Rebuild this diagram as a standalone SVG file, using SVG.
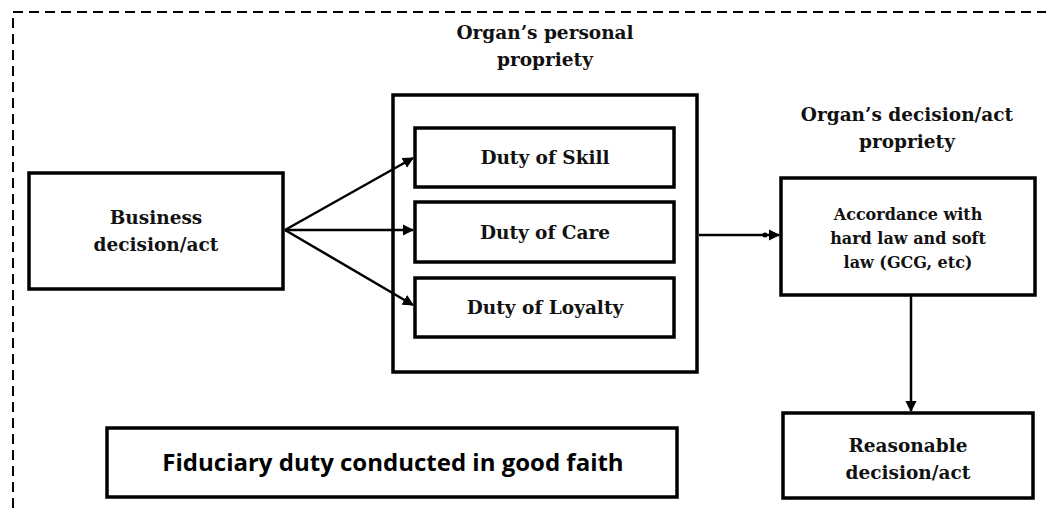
<svg xmlns="http://www.w3.org/2000/svg" width="1046" height="508" viewBox="0 0 1046 508">
<style>
.box{fill:#fff;stroke:#000;stroke-width:3.5}
.t{font-family:"DejaVu Serif","Liberation Serif",serif;font-weight:bold;font-size:18.5px;fill:#111;text-anchor:middle}
.ts{font-size:16px}
.c{stroke:#000;stroke-width:2.5;fill:none}
.f{font-family:"Open Sans","Liberation Sans",sans-serif;font-weight:bold;font-size:24px;fill:#000;text-anchor:middle}
</style>
<defs>
<marker id="ah" viewBox="0 0 10 10" refX="9" refY="5" markerWidth="4.5" markerHeight="4.5" markerUnits="strokeWidth" orient="auto">
<path d="M0,0 L10,5 L0,10 z" fill="#000"/>
</marker>
</defs>
<path d="M13,508 L13,12 L1046,12" fill="none" stroke="#000" stroke-width="2" stroke-dasharray="10,6"/>
<g id="title-personal">
<text class="t" x="545" y="39">Organ’s personal</text>
<text class="t" x="545" y="66">propriety</text>
</g>
<g id="title-decision">
<text class="t" x="907" y="121">Organ’s decision/act</text>
<text class="t" x="907" y="148">propriety</text>
</g>
<g id="business">
<rect class="box" x="29" y="173" width="254" height="116"/>
<text class="t" x="156" y="224">Business</text>
<text class="t" x="156" y="251">decision/act</text>
</g>
<g id="personal">
<rect class="box" x="393" y="95" width="304" height="277"/>
</g>
<g id="skill">
<rect class="box" x="415" y="128" width="259" height="59"/>
<text class="t" x="545" y="164">Duty of Skill</text>
</g>
<g id="care">
<rect class="box" x="415" y="202" width="259" height="60"/>
<text class="t" x="545" y="239">Duty of Care</text>
</g>
<g id="loyalty">
<rect class="box" x="415" y="278" width="259" height="59"/>
<text class="t" x="545" y="314">Duty of Loyalty</text>
</g>
<g id="accordance">
<rect class="box" x="781" y="178" width="254" height="117"/>
<text class="t ts" x="908" y="220">Accordance with</text>
<text class="t ts" x="908" y="244">hard law and soft</text>
<text class="t ts" x="908" y="268">law (GCG, etc)</text>
</g>
<g id="reasonable">
<rect class="box" x="783" y="413" width="250" height="85"/>
<text class="t" x="908" y="452">Reasonable</text>
<text class="t" x="908" y="479">decision/act</text>
</g>
<g id="fiduciary">
<rect class="box" x="107" y="428" width="570" height="69"/>
<text class="f" x="393" y="471">Fiduciary duty conducted in good faith</text>
</g>
<g id="connectors">
<line class="c" x1="285" y1="230" x2="413" y2="158" marker-end="url(#ah)"/>
<line class="c" x1="285" y1="230" x2="413" y2="230" marker-end="url(#ah)"/>
<line class="c" x1="285" y1="230" x2="413" y2="305" marker-end="url(#ah)"/>
<line class="c" x1="699" y1="235" x2="779" y2="235" marker-end="url(#ah)"/>
<circle cx="765" cy="235" r="2.5" fill="#000"/>
<line class="c" x1="911" y1="296" x2="911" y2="411" marker-end="url(#ah)"/>
</g>
</svg>
